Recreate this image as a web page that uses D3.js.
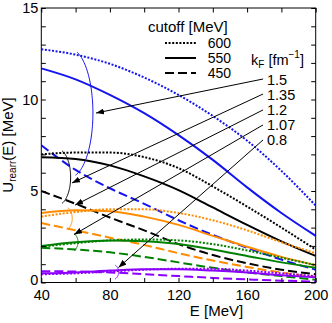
<!DOCTYPE html>
<html><head><meta charset="utf-8">
<script src="https://cdn.jsdelivr.net/npm/d3@7"></script>
<style>
body{margin:0;background:#fff}
svg{display:block}
text{font-family:"Liberation Sans",Arial,Helvetica,sans-serif;fill:#000}
</style>
</head><body>
<svg id="chart" width="332" height="323"></svg>
<script>
// ---------------- data ----------------
const energies = [40, 60, 80, 100, 120, 140, 160, 180, 200];
const kFLabels = ["1.5", "1.35", "1.2", "1.07", "0.8"];
const cutoffLabels = ["600", "550", "450"];
const xTicks = [40, 60, 80, 100, 120, 140, 160, 180, 200];
const xTickLabels = [40, 80, 120, 160, 200];
const yTicks = d3.range(0, 16, 1);
const yTickLabels = [0, 5, 10, 15];

// U_rearr(E) per kF, per cutoff (600 / 550 / 450)
const kF150_600 = [12.75, 12.45, 11.95, 11.2, 10.25, 9.1, 7.75, 6.1, 4.2];
const kF150_550 = [11.7, 11.1, 10.25, 9.25, 8.05, 6.7, 5.2, 3.8, 2.55];
const kF150_450 = [7.5, 6.15, 5.15, 4.3, 3.4, 2.6, 1.9, 1.25, 0.7];
const kF135_600 = [7.0, 7.1, 7.1, 6.85, 6.25, 5.25, 4.15, 3.0, 1.8];
const kF135_550 = [6.85, 6.75, 6.4, 5.8, 5.05, 4.1, 3.15, 2.25, 1.45];
const kF135_450 = [5.0, 4.3, 3.55, 2.85, 2.1, 1.5, 1.05, 0.7, 0.45];
const kF120_600 = [3.6, 3.85, 4.0, 4.0, 3.8, 3.4, 2.85, 2.2, 1.6];
const kF120_550 = [3.8, 3.95, 3.9, 3.6, 3.15, 2.55, 1.95, 1.4, 0.95];
const kF120_450 = [3.25, 2.85, 2.45, 2.05, 1.6, 1.2, 0.85, 0.55, 0.3];
const kF107_600 = [1.95, 2.15, 2.3, 2.35, 2.3, 2.1, 1.75, 1.35, 0.95];
const kF107_550 = [2.0, 2.2, 2.3, 2.25, 2.1, 1.8, 1.45, 1.1, 0.8];
const kF107_450 = [1.9, 1.8, 1.65, 1.4, 1.1, 0.8, 0.55, 0.35, 0.15];
const kF080_600 = [0.45, 0.5, 0.6, 0.7, 0.75, 0.75, 0.65, 0.5, 0.35];
const kF080_550 = [0.5, 0.55, 0.65, 0.72, 0.72, 0.65, 0.55, 0.4, 0.28];
const kF080_450 = [0.62, 0.6, 0.55, 0.45, 0.35, 0.25, 0.17, 0.1, 0.05];

const kFColors = ["#1414f0", "#000000", "#ff8c00", "#008000", "#8c00ff"];
const seriesByKF = [
  [kF150_600, kF150_550, kF150_450],
  [kF135_600, kF135_550, kF135_450],
  [kF120_600, kF120_550, kF120_450],
  [kF107_600, kF107_550, kF107_450],
  [kF080_600, kF080_550, kF080_450]
];

// annotation geometry in data units (E, U)
const arcCenterE = [56.7, 49.5, 52.8, 56.7, 81.0];
const arcCenterU = [9.26, 5.76, 3.50, 2.21, 0.57];
const arcRadE = [13.4, 7.6, 5.25, 4.7, 4.1];
const arcRadU = [3.5, 1.53, 0.68, 0.55, 0.44];
const arcAngles = [[-72, 76], [-70, 70], [-60, 60], [-60, 60], [-60, 60]];
const arrowStartE = 169.3;
const arrowStartU = [11.12, 10.30, 9.43, 8.61, 7.79];
const arrowEndE = [71.9, 57.9, 59.7, 59.1, 85.0];
const arrowEndU = [9.26, 5.44, 4.23, 2.62, 0.82];
const labelE = 171.6;
const labelU = [10.79, 9.97, 9.15, 8.33, 7.51];

// ---------------- chart ----------------
const svg = d3.select("#chart");
const x = d3.scaleLinear().domain([40, 200]).range([41.3, 315.7]);
const y = d3.scaleLinear().domain([0, 15]).range([282.5, 8]);

const dashFor = {"600": "2,1.6", "550": null, "450": "9,4"};

svg.append("defs").append("marker")
  .attr("id", "ah").attr("markerUnits", "userSpaceOnUse")
  .attr("markerWidth", 9).attr("markerHeight", 6)
  .attr("refX", 8).attr("refY", 3).attr("orient", "auto")
  .append("path").attr("d", "M0,0 L8,3 L0,6 Z").attr("fill", "#000");

svg.append("clipPath").attr("id", "pc").append("rect")
  .attr("x", x(40)).attr("y", y(15)).attr("width", x(200) - x(40)).attr("height", y(0) - y(15));

const line = d3.line().x((d, i) => x(energies[i])).y(d => y(d)).curve(d3.curveMonotoneX);

const curves = svg.append("g").attr("clip-path", "url(#pc)");
seriesByKF.forEach((group, k) => {
  group.forEach((vals, c) => {
    curves.append("path").datum(vals)
      .attr("d", line)
      .attr("fill", "none")
      .attr("stroke", kFColors[k])
      .attr("stroke-width", 2)
      .attr("stroke-dasharray", dashFor[cutoffLabels[c]]);
  });
});

// ellipse arcs grouping the three cutoffs
seriesByKF.forEach((g, k) => {
  const [a0, a1] = arcAngles[k];
  const cx = x(arcCenterE[k]), cy = y(arcCenterU[k]);
  const rx = x(arcCenterE[k] + arcRadE[k]) - cx, ry = y(arcCenterU[k] - arcRadU[k]) - cy;
  const pts = d3.range(a0, a1 + 0.1, 2).map(a => {
    const t = a * Math.PI / 180;
    return [cx + rx * Math.cos(t), cy + ry * Math.sin(t)];
  });
  svg.append("path").attr("d", d3.line()(pts))
    .attr("fill", "none").attr("stroke", kFColors[k]).attr("stroke-width", 1);
});

// arrows and labels
kFLabels.forEach((lab, k) => {
  svg.append("line")
    .attr("x1", x(arrowStartE)).attr("y1", y(arrowStartU[k]))
    .attr("x2", x(arrowEndE[k])).attr("y2", y(arrowEndU[k]))
    .attr("stroke", "#000").attr("stroke-width", 1)
    .attr("marker-end", "url(#ah)");
  svg.append("text").attr("x", x(labelE)).attr("y", y(labelU[k]))
    .attr("font-size", 14.5).text(lab);
});

// kF title
const kt = svg.append("text").attr("x", 251).attr("y", 65).attr("font-size", 14.5);
kt.append("tspan").text("k");
kt.append("tspan").attr("font-size", 10).attr("dy", 3).text("F");
kt.append("tspan").attr("dy", -3).text(" [fm");
kt.append("tspan").attr("font-size", 10).attr("dy", -7).text("\u22121");
kt.append("tspan").attr("dy", 7).text("]");

// legend
svg.append("text").attr("x", 148).attr("y", 32).attr("font-size", 15).text("cutoff [MeV]");
cutoffLabels.forEach((c, i) => {
  const ly = 43 + i * 15;
  svg.append("line").attr("x1", 165).attr("x2", 196).attr("y1", ly).attr("y2", ly)
    .attr("stroke", "#000").attr("stroke-width", 2).attr("stroke-dasharray", dashFor[c]);
  svg.append("text").attr("x", 231).attr("y", ly + 5).attr("text-anchor", "end")
    .attr("font-size", 14).text(c);
});

// axes
const fmtX = d => xTickLabels.includes(d) ? d : "";
const fmtY = d => yTickLabels.includes(d) ? d : "";
const gB = svg.append("g").attr("transform", `translate(0,${y(0)})`)
  .call(d3.axisBottom(x).tickValues(xTicks).tickSize(-4.5).tickPadding(7).tickFormat(fmtX));
const gT = svg.append("g").attr("transform", `translate(0,${y(15)})`)
  .call(d3.axisTop(x).tickValues(xTicks).tickSize(-4.5).tickFormat(""));
const gL = svg.append("g").attr("transform", `translate(${x(40)},0)`)
  .call(d3.axisLeft(y).tickValues(yTicks).tickSize(-4.5).tickPadding(3).tickFormat(fmtY));
const gR = svg.append("g").attr("transform", `translate(${x(200)},0)`)
  .call(d3.axisRight(y).tickValues(yTicks).tickSize(-4.5).tickFormat(""));
[gB, gT, gL, gR].forEach(g => {
  g.select(".domain").remove();
  g.selectAll(".tick line").attr("stroke", "#000").attr("stroke-width", 1);
  g.selectAll("text").attr("font-size", 14.5).attr("font-family", "Liberation Sans, Arial, sans-serif").attr("fill", "#000");
});
gL.selectAll(".tick text").filter(d => d === 0).attr("dy", "0.15em");

svg.append("rect").attr("x", x(40)).attr("y", y(15))
  .attr("width", x(200) - x(40)).attr("height", y(0) - y(15))
  .attr("fill", "none").attr("stroke", "#000").attr("stroke-width", 1);

// axis titles
svg.append("text").attr("x", 216.5).attr("y", 316).attr("text-anchor", "middle")
  .attr("font-size", 15).text("E [MeV]");
const yt = svg.append("text").attr("transform", "translate(13,145) rotate(-90)")
  .attr("text-anchor", "middle").attr("font-size", 15);
yt.append("tspan").text("U");
yt.append("tspan").attr("font-size", 10).attr("dy", 3).text("rearr");
yt.append("tspan").attr("dy", -3).text("(E) [MeV]");
</script>
</body></html>
